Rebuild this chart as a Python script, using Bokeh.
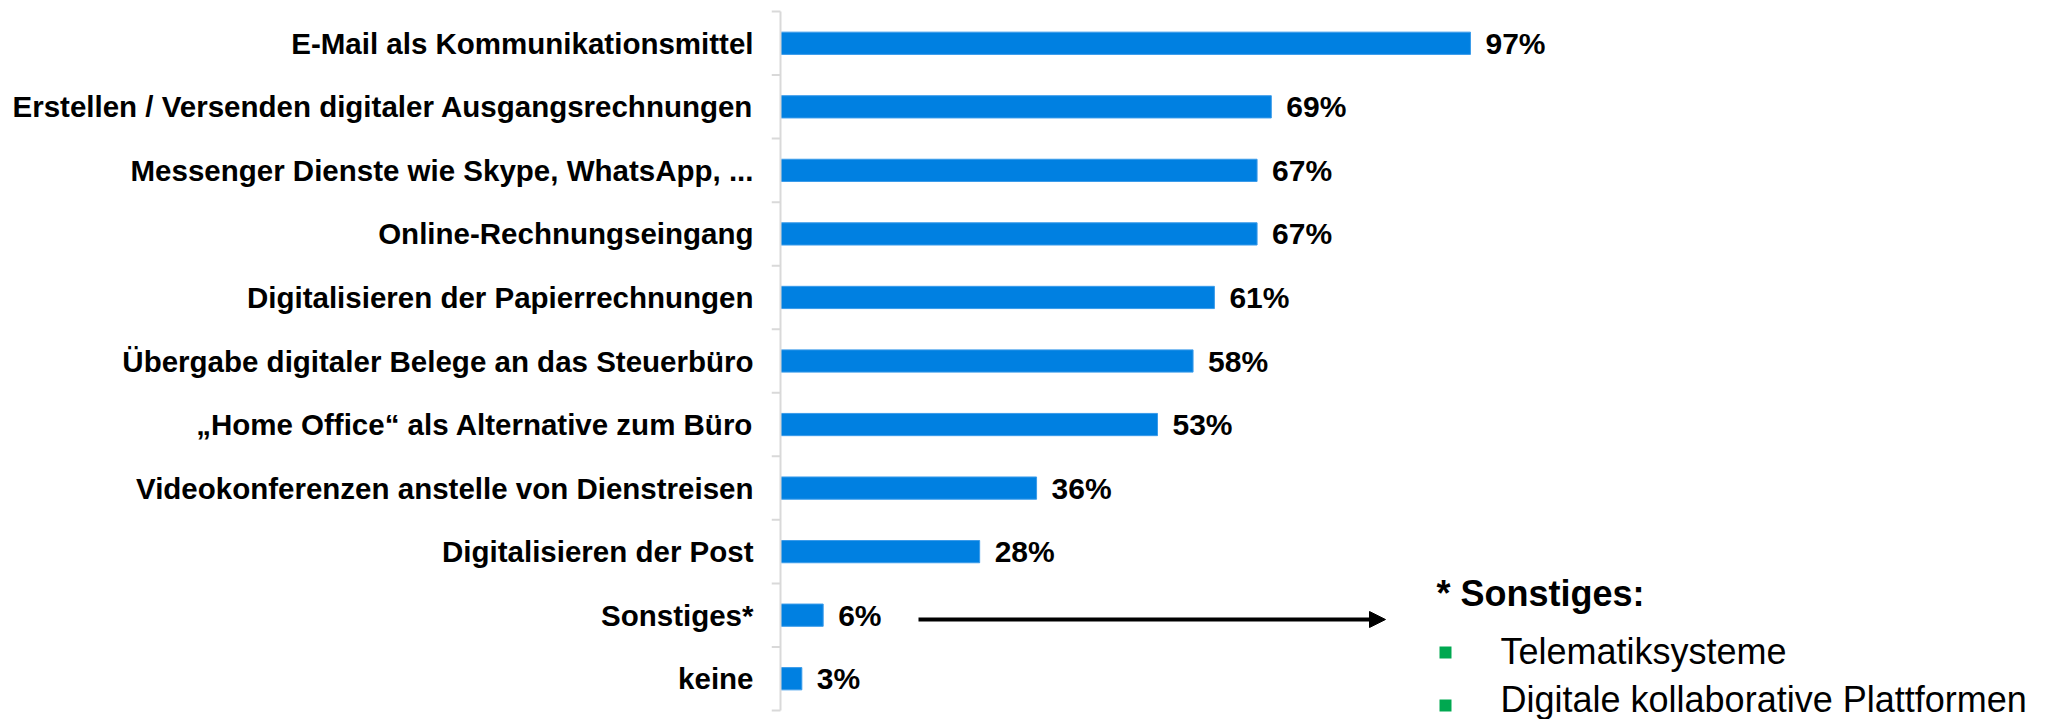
from bokeh.plotting import figure
from bokeh.models import ColumnDataSource, LabelSet, Label, Arrow, NormalHead, Range1d, FactorRange
from bokeh.core.properties import value
from bokeh.embed import file_html
from bokeh.resources import INLINE

# ---- data ----
categories = [
    "E-Mail als Kommunikationsmittel",
    "Erstellen / Versenden digitaler Ausgangsrechnungen",
    "Messenger Dienste wie Skype, WhatsApp, ...",
    "Online-Rechnungseingang",
    "Digitalisieren der Papierrechnungen",
    "Übergabe digitaler Belege an das Steuerbüro",
    "\u201eHome Office\u201c als Alternative zum Büro",
    "Videokonferenzen anstelle von Dienstreisen",
    "Digitalisieren der Post",
    "Sonstiges*",
    "keine",
]
values = [97, 69, 67, 67, 61, 58, 53, 36, 28, 6, 3]
value_labels = [f"{v}%" for v in values]
note_title = "* Sonstiges:"
note_items = ["Telematiksysteme", "Digitale kollaborative Plattformen"]

# ---- layout constants (page pixels) ----
FONT = "Liberation Sans"
BAR_COLOR = "#0080E1"
AXIS_GRAY = "#D9D9D9"
W, H = 2055, 719
BORDER_LEFT = 771
ROWS_TOP, ROWS_BOTTOM = 11, 710
PAD_PX = 9
BORDER_TOP = ROWS_TOP - PAD_PX
BORDER_BOTTOM = H - ROWS_BOTTOM - PAD_PX
PX_PER_UNIT = 7.113
TICK_PX = 9
ZERO_PX = BORDER_LEFT + TICK_PX                # page x of value 0
ROW_PX = (ROWS_BOTTOM - ROWS_TOP) / len(categories)


def xd(px):
    return (px - ZERO_PX) / PX_PER_UNIT


def yd(py):
    return (ROWS_BOTTOM - py) / ROW_PX


x_start = -TICK_PX / PX_PER_UNIT
x_end = x_start + (W - BORDER_LEFT) / PX_PER_UNIT

factors = list(reversed(categories))
p = figure(
    width=W, height=H,
    y_range=FactorRange(factors=factors, range_padding=PAD_PX / ROW_PX,
                        range_padding_units="absolute"),
    x_range=Range1d(x_start, x_end),
    output_backend="svg", toolbar_location=None,
    min_border_left=BORDER_LEFT, min_border_right=0,
    min_border_top=BORDER_TOP, min_border_bottom=BORDER_BOTTOM,
)
p.outline_line_color = None
p.xgrid.visible = False
p.ygrid.visible = False
p.xaxis.visible = False
p.background_fill_color = "white"
p.border_fill_color = "white"

src = ColumnDataSource(dict(cat=categories, val=values, lab=value_labels))
p.hbar(y="cat", right="val", left=0, height=0.35, source=src,
       fill_color=BAR_COLOR, line_color="#3A9BEA", line_width=1)

# axis line and ticks at category boundaries
n = len(categories)
p.segment(x0=[0], x1=[0], y0=[0], y1=[n], line_color=AXIS_GRAY, line_width=2)
bounds = list(range(n + 1))
p.segment(x0=[x_start] * len(bounds), x1=[0] * len(bounds), y0=bounds, y1=bounds,
          line_color=AXIS_GRAY, line_width=2)

ax = p.yaxis[0]
ax.axis_line_color = None
ax.major_tick_line_color = None
ax.minor_tick_line_color = None
ax.major_tick_out = 0
ax.major_tick_in = 0
ax.major_label_standoff = 18
ax.major_label_text_font = FONT
ax.major_label_text_font_style = "bold"
ax.major_label_text_font_size = "29.5px"
ax.major_label_text_color = "black"

p.add_layout(LabelSet(x="val", y="cat", text="lab", source=src, x_offset=15,
                      text_baseline="middle", text_font=value(FONT),
                      text_font_style="bold", text_font_size="30px",
                      text_color="black"))

# side note
p.add_layout(Arrow(end=NormalHead(size=16, fill_color="black", line_color="black"),
                   x_start=xd(918), y_start=yd(619), x_end=xd(1385), y_end=yd(619),
                   line_width=4, line_color="black"))
p.add_layout(Label(x=xd(1436), y=yd(593), text=note_title, text_font=FONT,
                   text_font_style="bold", text_font_size="36px",
                   text_baseline="alphabetic", text_color="black"))
item_baselines = [651, 699]
bullet_centers = [652, 705]
p.scatter(x=[xd(1445)] * len(note_items), y=[yd(b) for b in bullet_centers],
          marker="square", size=12, fill_color="#00A850", line_color=None)
for txt, b in zip(note_items, item_baselines):
    p.add_layout(Label(x=xd(1500), y=yd(b), text=txt, text_font=FONT,
                       text_font_size="36px", text_baseline="alphabetic",
                       text_color="black"))

open("out.html", "w").write(file_html(p, INLINE))
